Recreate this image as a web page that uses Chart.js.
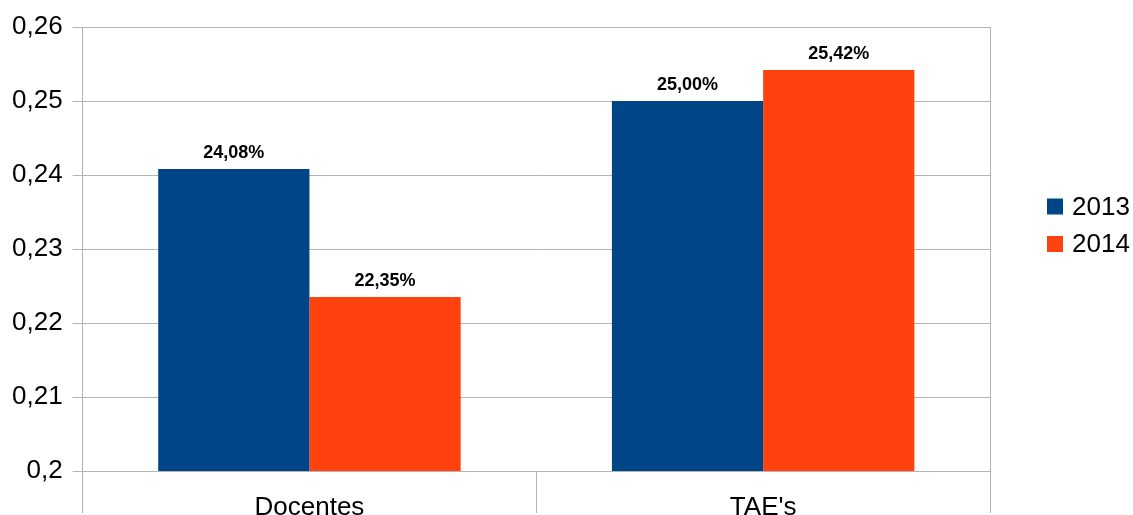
<!DOCTYPE html>
<html>
<head>
<meta charset="utf-8">
<script src="https://cdn.jsdelivr.net/npm/chart.js@4/dist/chart.umd.min.js"></script>
<style>
    html, body { margin: 0; padding: 0; background: #fff; overflow: hidden; }
    #wrap { width: 1133px; height: 515px; position: relative; }
</style>
</head>
<body>
<div id="wrap"><canvas id="chart"></canvas></div>
<script>
const categories = ['Docentes', "TAE's"];
const years = ['2013', '2014'];
const values2013 = [0.2408, 0.2500];
const values2014 = [0.2235, 0.2542];
const yTicks = [0.20, 0.21, 0.22, 0.23, 0.24, 0.25, 0.26];

const blue = '#004586';
const orange = '#ff420e';
const gridColor = '#b3b3b3';
const font = 'Liberation Sans';

let decimalComma = (v, digits) => v.toFixed(digits).replace('.', ',');

// percentages above each bar
const barLabels = {
    id: 'barLabels',
    afterDatasetsDraw(chart) {
        let ctx = chart.ctx;
        ctx.save();
        ctx.font = 'bold 18px "' + font + '"';
        ctx.fillStyle = '#000';
        ctx.textAlign = 'center';
        ctx.textBaseline = 'alphabetic';
        chart.data.datasets.forEach((ds, i) => {
            chart.getDatasetMeta(i).data.forEach((bar, j) => {
                ctx.fillText(decimalComma(ds.data[j] * 100, 2) + '%', bar.x, bar.y - 11);
            });
        });
        ctx.restore();
    }
};

// legend on the right, squares + year
const sideLegend = {
    id: 'sideLegend',
    afterDraw(chart) {
        let ctx = chart.ctx;
        ctx.save();
        ctx.font = '26px "' + font + '"';
        ctx.textBaseline = 'middle';
        ctx.textAlign = 'left';
        chart.data.datasets.forEach((ds, i) => {
            let cy = 206.5 + i * 37.5;
            ctx.fillStyle = ds.backgroundColor;
            ctx.fillRect(1047, cy - 8, 16, 16);
            ctx.fillStyle = '#000';
            ctx.fillText(ds.label, 1072, cy + 1);
        });
        ctx.restore();
    }
};

new Chart(document.getElementById('chart'), {
    type: 'bar',
    data: {
        labels: categories,
        datasets: [
            { label: years[0], data: values2013, backgroundColor: blue },
            { label: years[1], data: values2014, backgroundColor: orange }
        ]
    },
    options: {
        responsive: true,
        maintainAspectRatio: false,
        animation: false,
        devicePixelRatio: 1,
        layout: { padding: { top: 27, right: 143, bottom: 0, left: 2 } },
        datasets: {
            bar: { categoryPercentage: 2 / 3, barPercentage: 1, borderWidth: 0 }
        },
        plugins: {
            legend: { display: false },
            tooltip: { enabled: false }
        },
        scales: {
            x: {
                offset: true,
                afterFit: (scale) => { scale.height = 44; },
                grid: {
                    offset: true,
                    drawOnChartArea: false,
                    tickLength: 42,
                    color: gridColor
                },
                border: { color: gridColor },
                ticks: {
                    padding: -21,
                    maxRotation: 0,
                    color: '#000',
                    font: { family: font, size: 26 }
                }
            },
            y: {
                min: 0.2,
                max: 0.26,
                afterBuildTicks: (scale) => { scale.ticks = yTicks.map(v => ({ value: v })); },
                grid: { color: gridColor, tickLength: 10 },
                border: { color: gridColor },
                ticks: {
                    padding: 10,
                    color: '#000',
                    font: { family: font, size: 26 },
                    callback: (v) => String(Number(v.toFixed(2))).replace('.', ',')
                }
            },
            yRight: {
                position: 'right',
                min: 0.2,
                max: 0.26,
                afterFit: (scale) => { scale.width = 0; },
                grid: { display: false },
                ticks: { display: false },
                border: { display: true, color: gridColor }
            }
        }
    },
    plugins: [barLabels, sideLegend]
});
</script>
</body>
</html>
